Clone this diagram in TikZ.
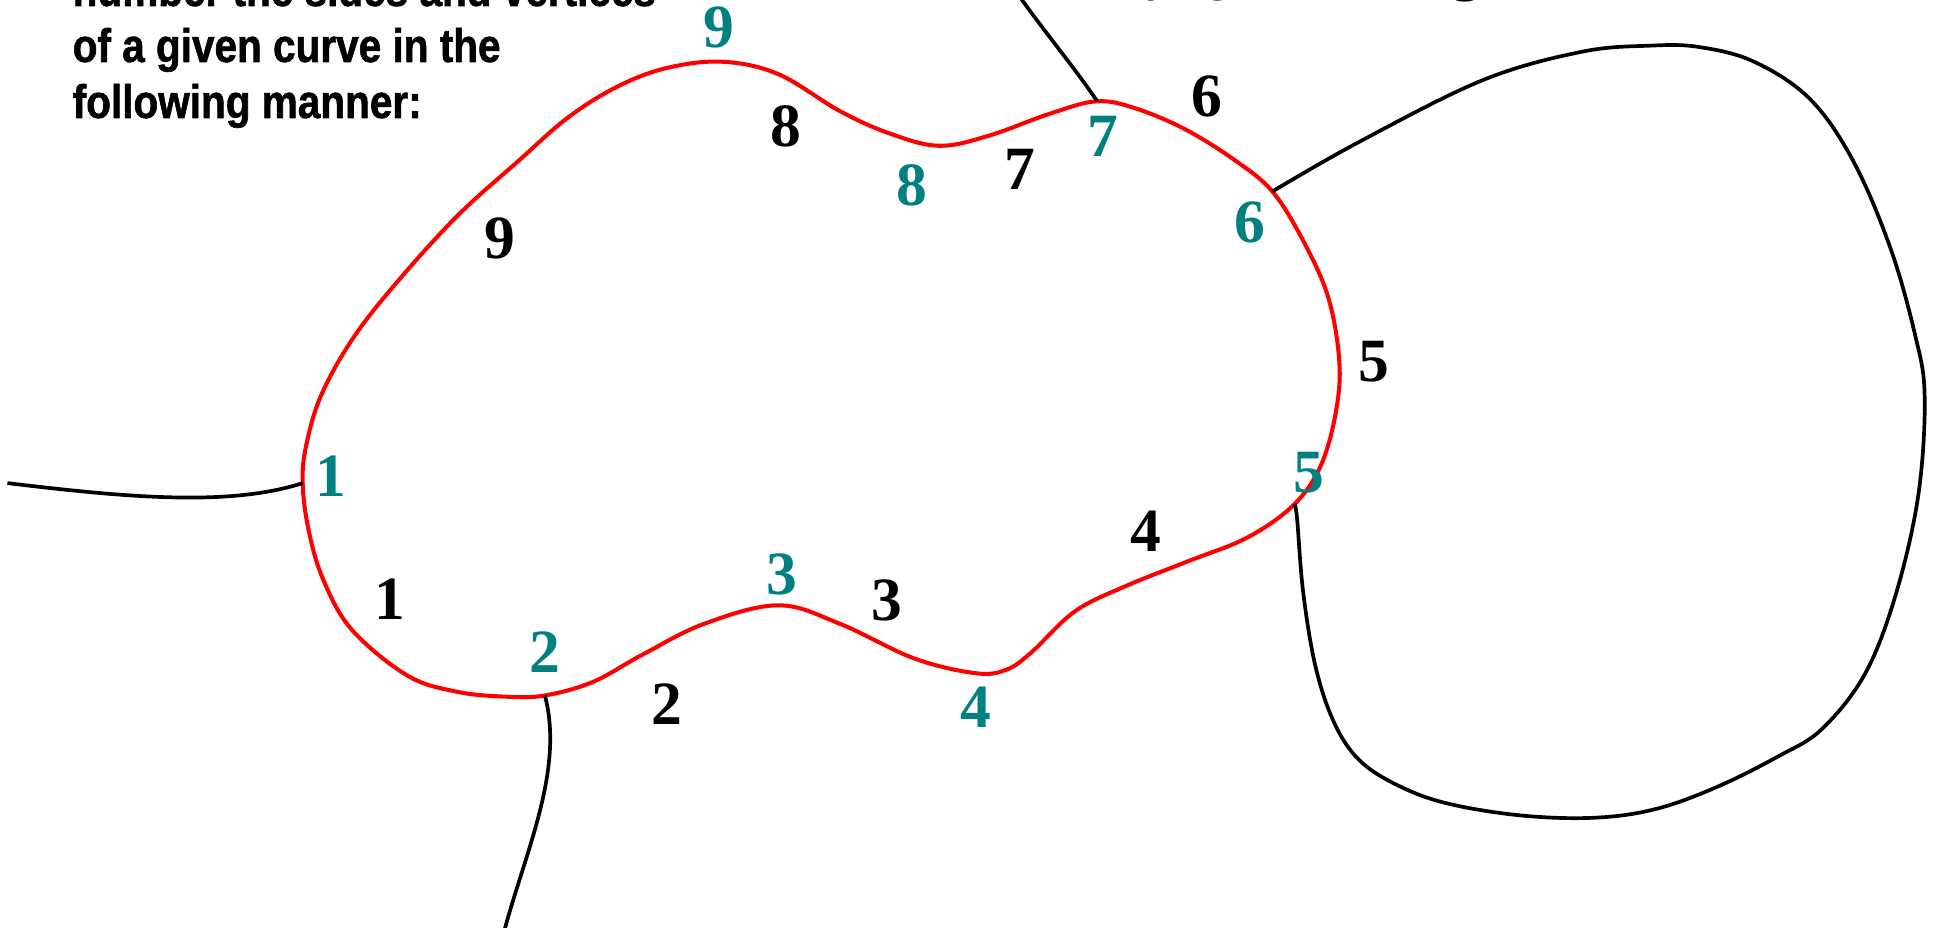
\documentclass[tikz,border=0pt]{standalone}
\usepackage{fontspec}
\setmainfont{Liberation Serif}
\newfontfamily\headfont[FakeStretch=0.86,FakeBold=1.2]{Liberation Sans}
\definecolor{tealnum}{RGB}{0,128,128}
\begin{document}
\begin{tikzpicture}[x=0.01cm,y=-0.01cm,
  redcurve/.style={draw=red,line width=1.15pt},
  blackline/.style={draw=black,line width=1.05pt},
  vlabel/.style={text=tealnum,font=\fontsize{17.5}{20}\selectfont\bfseries,inner sep=0pt},
  slabel/.style={text=black,font=\fontsize{17.5}{20}\selectfont\bfseries,inner sep=0pt},
  head/.style={anchor=base west,inner sep=0pt,font=\headfont\bfseries\fontsize{13.4}{16}\selectfont}]
\useasboundingbox (0,0) rectangle (1937,928);
\clip (0,0) rectangle (1937,928);
% heading
\node[head] (h1) at (72,6) {number the sides and vertices};
\node[head] (h2) at (72,62) {of a given curve in the};
\node[head] (h3) at (72,118) {following manner:};
\node[slabel,anchor=base west] (f1) at (1140,1) {a2o};
\node[slabel,anchor=base west] (f2) at (1450,-11) {g};
\begin{scope}[scale=1.2353]
% red curve (coordinates in 1568-wide units)
\draw[redcurve] plot[smooth cycle, tension=0.6] coordinates {
 (245,391) (250,430) (262,470) (285,510) (330,547) (370,560) (410,564) (441,563)
 (480,552) (520,530) (570,505) (630,490) (680,505) (740,533) (790,545) (815,542)
 (835,528) (870,495) (910,475) (960,455) (1010,435) (1048,408) (1070,375)
 (1082,330) (1084,290) (1075,240) (1055,195) (1030,155) (1000,130) (960,105)
 (920,88) (888,82) (850,92) (800,110) (760,118) (720,108) (680,90) (630,60)
 (585,50) (540,55) (500,70) (460,95) (420,130) (370,175) (320,230) (285,275)
 (260,320) (248,360)};
% vertices where connectors attach
\coordinate (v1) at (245,391);
\coordinate (v2) at (441,563);
\coordinate (v5) at (1048,408);
\coordinate (v6) at (1030,155);
\coordinate (v7) at (888,82);
\coordinate (l0) at (6,391);
\coordinate (b0) at (408,754);
\coordinate (t0) at (825,-3);
% connectors
\draw[blackline] (l0) .. controls (105,403) and (186,410) .. (v1);
\draw[blackline] (v2) .. controls (457,623) and (425,690) .. (b0);
\draw[blackline] (v7) .. controls (870,55) and (845,25) .. (t0);
\draw[blackline] plot[smooth, tension=0.6] coordinates {
 (1030,155) (1100,115) (1200,65) (1280,42) (1335,37) (1375,38) (1420,50)
 (1465,80) (1500,130) (1530,200) (1550,270) (1558,320) (1553,400) (1535,480)
 (1510,545) (1475,590) (1440,612) (1390,637) (1340,655) (1290,662) (1230,660)
 (1170,650) (1130,635) (1100,615) (1080,585) (1065,540) (1055,480) (1050,420)
 (1048,408)};
\end{scope}
% vertex labels
\node[vlabel] (n1) at (331,476) {1};
\node[vlabel] (n2) at (545,652) {2};
\node[vlabel] (n3) at (782,574) {3};
\node[vlabel] (n4) at (976,707) {4};
\node[vlabel] (n5) at (1309,473) {5};
\node[vlabel] (n6) at (1250,222) {6};
\node[vlabel] (n7) at (1103,136) {7};
\node[vlabel] (n8) at (912,185) {8};
\node[vlabel] (n9) at (719,27) {9};
% side labels
\node[slabel] (s1) at (390,599) {1};
\node[slabel] (s2) at (667,704) {2};
\node[slabel] (s3) at (887,600) {3};
\node[slabel] (s4) at (1146,531) {4};
\node[slabel] (s5) at (1374,362) {5};
\node[slabel] (s6) at (1207,96) {6};
\node[slabel] (s7) at (1020,169) {7};
\node[slabel] (s8) at (786,126) {8};
\node[slabel] (s9) at (500,238) {9};
\end{tikzpicture}
\end{document}
